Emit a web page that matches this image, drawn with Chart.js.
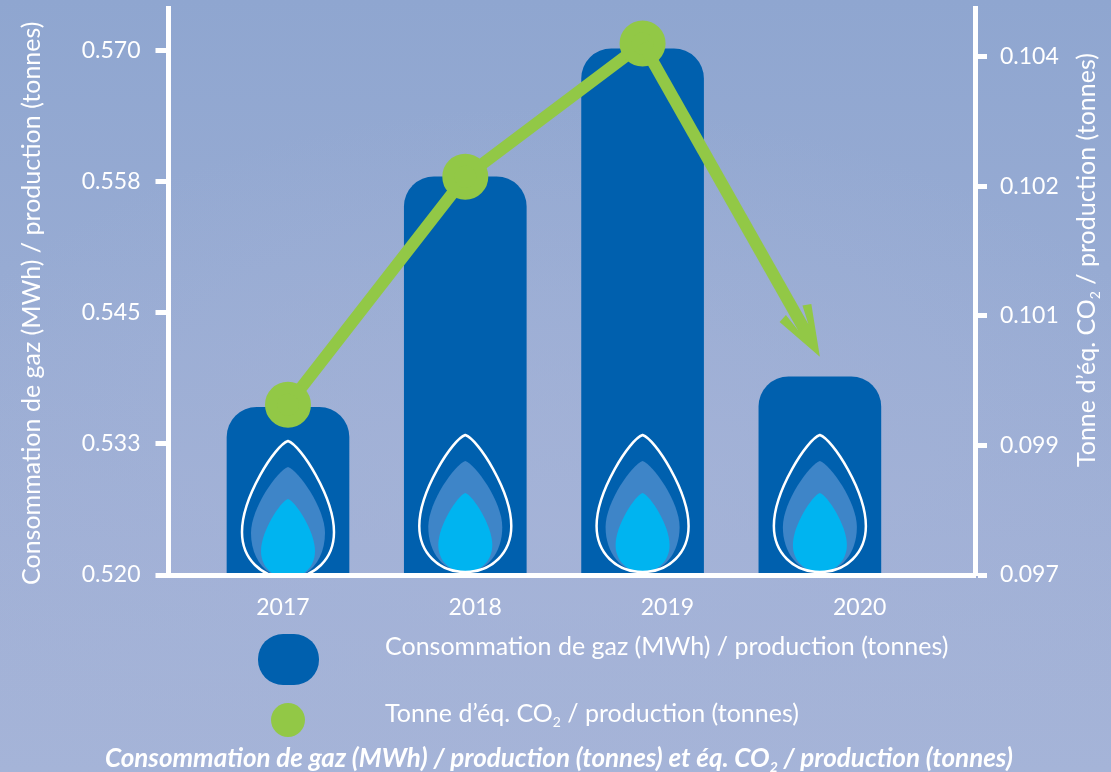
<!DOCTYPE html>
<html>
<head>
<meta charset="utf-8">
<script src="https://cdn.jsdelivr.net/npm/chart.js@4/dist/chart.umd.min.js"></script>
<style>
html, body { margin: 0; padding: 0; width: 1111px; height: 772px; overflow: hidden; }
body { background:
    radial-gradient(ellipse 700px 420px at 50% 68%, rgba(166,180,216,0.75), rgba(166,180,216,0) 100%),
    linear-gradient(180deg, #8fa6d0 0%, #97abd3 35%, #a0b0d6 70%, #a5b4d8 100%); }
#wrap { position: absolute; left: 0; top: 0; width: 1111px; height: 772px; }
</style>
</head>
<body>
<div id="wrap"><canvas id="gasChart" width="1111" height="772"></canvas></div>
<script>
// data
const years = [2017, 2018, 2019, 2020];
const gasValues = [0.536, 0.558, 0.5702, 0.5389];
const co2Values = [0.0993, 0.10238, 0.10418, 0.09995];
const gasTicks = [0.52, 0.5325, 0.545, 0.5575, 0.57];
const gasTickLabels = ['0.520', '0.533', '0.545', '0.558', '0.570'];
const co2Ticks = [0.097, 0.09875, 0.1005, 0.10225, 0.104];
const co2TickLabels = ['0.097', '0.099', '0.101', '0.102', '0.104'];
const gasLabel = 'Consommation de gaz (MWh) / production (tonnes)';

const BLUE = '#0060ae';
const GREEN = '#92c846';
const FONT = 'Lato';

// text with an optional subscript part: [before, sub, after]
function subText(ctx, parts, x, y, size, style) {
    ctx.textAlign = 'left';
    ctx.textBaseline = 'alphabetic';
    ctx.fillStyle = '#fff';
    ctx.font = style + ' ' + size + 'px ' + FONT;
    ctx.fillText(parts[0], x, y);
    x += ctx.measureText(parts[0]).width;
    if (parts.length > 1) {
        ctx.font = style + ' ' + Math.round(size * 0.55) + 'px ' + FONT;
        ctx.fillText(parts[1], x, y + 5);
        x += ctx.measureText(parts[1]).width;
        ctx.font = style + ' ' + size + 'px ' + FONT;
        ctx.fillText(parts[2], x, y);
    }
}

function dropPath(ctx, cx, top, bottom, hw, belly) {
    ctx.beginPath();
    ctx.moveTo(cx, top);
    ctx.bezierCurveTo(cx + hw * 0.28, top + 0.03 * (bottom - top), cx + hw, belly - (belly - top) * 0.38, cx + hw, belly);
    ctx.bezierCurveTo(cx + hw, belly + (bottom - belly) * 0.58, cx + hw * 0.58, bottom, cx, bottom);
    ctx.bezierCurveTo(cx - hw * 0.58, bottom, cx - hw, belly + (bottom - belly) * 0.58, cx - hw, belly);
    ctx.bezierCurveTo(cx - hw, belly - (belly - top) * 0.38, cx - hw * 0.28, top + 0.03 * (bottom - top), cx, top);
    ctx.closePath();
}

const decorPlugin = {
    id: 'decor',
    afterDatasetsDraw(chart) {
        const ctx = chart.ctx;
        const area = chart.chartArea;

        // flames on the bars
        const bars = chart.getDatasetMeta(1).data;
        ctx.save();
        ctx.beginPath();
        ctx.rect(0, 0, 1111, area.bottom - 2);
        ctx.clip();
        bars.forEach((bar, i) => {
            const dy = i === 0 ? 6 : 0;
            const b = area.bottom;
            dropPath(ctx, bar.x, b - 114 + dy, b - 3 + dy, 37, b - 48 + dy);
            ctx.fillStyle = '#3e85c8';
            ctx.fill();
            dropPath(ctx, bar.x, b - 82 + dy, b - 3 + dy, 27, b - 30 + dy);
            ctx.fillStyle = '#00b4f0';
            ctx.fill();
            dropPath(ctx, bar.x, b - 140 + dy, b - 3 + dy, 46, b - 49 + dy);
            ctx.strokeStyle = '#fff';
            ctx.lineWidth = 2.5;
            ctx.lineJoin = 'round';
            ctx.stroke();
        });
        ctx.restore();

        // arrow on the last segment of the line
        const pts = chart.getDatasetMeta(0).data;
        const from = pts[2], to = pts[3];
        const ang = Math.atan2(to.y - from.y, to.x - from.x);
        const len = Math.hypot(to.x - from.x, to.y - from.y);
        ctx.save();
        ctx.translate(to.x, to.y);
        ctx.rotate(ang);
        ctx.fillStyle = GREEN;
        ctx.fillRect(-len, -6, len - 30, 12);
        ctx.beginPath();
        ctx.moveTo(0, 0);
        ctx.lineTo(-50, 18);
        ctx.lineTo(-53, 9);
        ctx.lineTo(-34, 6);
        ctx.lineTo(-34, -6);
        ctx.lineTo(-53, -10);
        ctx.lineTo(-50, -18.5);
        ctx.closePath();
        ctx.fill();
        ctx.restore();

        // axis titles
        ctx.save();
        ctx.translate(40, 585);
        ctx.rotate(-Math.PI / 2);
        subText(ctx, [gasLabel], 0, 0, 25, 'normal');
        ctx.restore();
        ctx.save();
        ctx.translate(1095, 467);
        ctx.rotate(-Math.PI / 2);
        subText(ctx, ['Tonne d\u2019éq. CO', '2', ' / production (tonnes)'], 0, 0, 25, 'normal');
        ctx.restore();

        // legend
        ctx.fillStyle = BLUE;
        ctx.beginPath();
        ctx.roundRect(258, 634, 61, 51, 25);
        ctx.fill();
        ctx.fillStyle = GREEN;
        ctx.beginPath();
        ctx.arc(288, 720, 17, 0, Math.PI * 2);
        ctx.fill();
        subText(ctx, [gasLabel], 385, 655, 25, 'normal');
        subText(ctx, ['Tonne d\u2019éq. CO', '2', ' / production (tonnes)'], 385, 722, 25, 'normal');

        // caption
        subText(ctx, ['Consommation de gaz (MWh) / production (tonnes) et éq. CO', '2', ' / production (tonnes)'], 105, 767, 26, 'italic bold');
    }
};

Chart.defaults.font.family = FONT;

// keep the plot area where the axis lines are: no room kept for half tick labels
function fixVertical(width) {
    return s => {
        s.width = width;
        s.paddingTop = 0;
        s.paddingBottom = 0;
    };
}

new Chart(document.getElementById('gasChart'), {
    type: 'bar',
    plugins: [decorPlugin],
    data: {
        datasets: [
            {
                type: 'line',
                label: 'Tonne d\u2019éq. CO2 / production (tonnes)',
                data: years.map((y, i) => ({ x: y, y: co2Values[i] })),
                yAxisID: 'y1',
                xAxisID: 'x',
                borderColor: GREEN,
                backgroundColor: GREEN,
                borderWidth: 12,
                pointRadius: [17, 17, 17, 0],
                pointHoverRadius: [17, 17, 17, 0],
                tension: 0,
                clip: false,
                order: 0,
                segment: {
                    borderColor: c => c.p1DataIndex === 3 ? 'rgba(0,0,0,0)' : undefined
                }
            },
            {
                label: gasLabel,
                data: years.map((y, i) => ({ x: y, y: gasValues[i] })),
                yAxisID: 'y',
                xAxisID: 'x',
                backgroundColor: BLUE,
                barThickness: 122,
                borderRadius: { topLeft: 30, topRight: 30 },
                borderSkipped: 'bottom',
                order: 1
            }
        ]
    },
    options: {
        responsive: false,
        animation: false,
        layout: { autoPadding: false, padding: { top: 8 } },
        plugins: { legend: { display: false }, tooltip: { enabled: false } },
        scales: {
            x: {
                type: 'linear',
                display: false,
                offset: false,
                min: 2016.326,
                max: 2020.875
            },
            xt: {
                type: 'linear',
                axis: 'x',
                position: 'bottom',
                offset: false,
                min: 2016.405,
                max: 2020.6,
                afterFit: s => { s.height = 197; s.paddingLeft = 0; s.paddingRight = 0; },
                afterBuildTicks: s => { s.ticks = years.map(v => ({ value: v })); },
                grid: { display: false },
                border: { color: '#fff', width: 5, z: 2 },
                ticks: {
                    color: '#fff',
                    font: { size: 23 },
                    padding: 11,
                    maxRotation: 0,
                    autoSkip: false,
                    callback: v => String(v)
                }
            },
            y: {
                position: 'left',
                min: 0.52,
                max: 0.5741,
                afterFit: fixVertical(168.5),
                afterBuildTicks: s => { s.ticks = gasTicks.map(v => ({ value: v })); },
                grid: { drawOnChartArea: false, color: '#fff', tickColor: '#fff', tickLength: 13, tickWidth: 5 },
                border: { color: '#fff', width: 5, z: 2 },
                ticks: {
                    color: '#fff',
                    font: { size: 23 },
                    padding: 15,
                    autoSkip: false,
                    callback: (v, i) => gasTickLabels[i]
                }
            },
            y1: {
                position: 'right',
                min: 0.097,
                max: 0.10466,
                afterFit: fixVertical(136),
                afterBuildTicks: s => { s.ticks = co2Ticks.map(v => ({ value: v })); },
                grid: { drawOnChartArea: false, color: '#fff', tickColor: '#fff', tickLength: 12, tickWidth: 5 },
                border: { color: '#fff', width: 5, z: 2 },
                ticks: {
                    color: '#fff',
                    font: { size: 23 },
                    padding: 13,
                    autoSkip: false,
                    callback: (v, i) => co2TickLabels[i]
                }
            }
        }
    }
});
</script>
</body>
</html>
